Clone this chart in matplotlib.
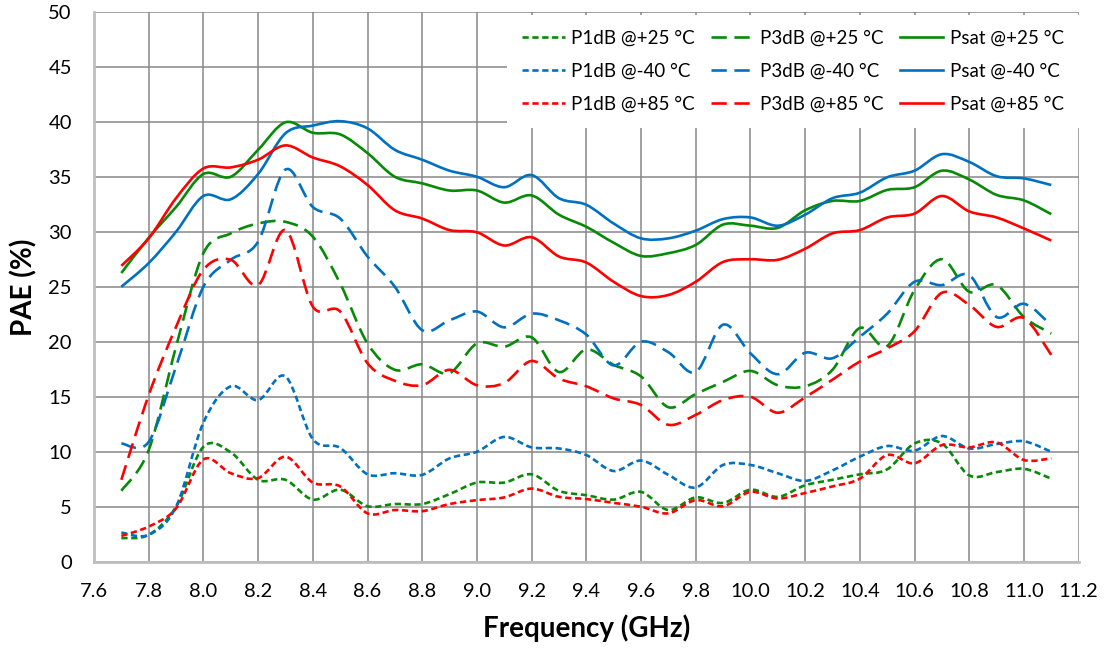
import numpy as np
import matplotlib
matplotlib.use("Agg")
import matplotlib.pyplot as plt
from matplotlib.path import Path
from matplotlib.patches import PathPatch
from matplotlib.lines import Line2D

plt.rcParams['font.family'] = ['Lato', 'DejaVu Sans']
plt.rcParams['lines.scale_dashes'] = False

# ---------------- data ----------------
freq = [7.7, 7.8, 7.9, 8.0, 8.1, 8.2, 8.3, 8.4, 8.5, 8.6, 8.7, 8.8, 8.9, 9.0,
        9.1, 9.2, 9.3, 9.4, 9.5, 9.6, 9.7, 9.8, 9.9, 10.0, 10.1, 10.2, 10.3,
        10.4, 10.5, 10.6, 10.7, 10.8, 10.9, 11.0, 11.1]

p1db_25 = [2.2, 2.5, 5.05, 10.5, 10.0, 7.5, 7.5, 5.7, 6.6, 5.1, 5.3, 5.3, 6.2, 7.25,
           7.25, 8.0, 6.5, 6.1, 5.7, 6.4, 4.75, 5.9, 5.4, 6.6, 5.95, 7.0, 7.5,
           8.0, 8.45, 10.8, 10.8, 7.9, 8.2, 8.5, 7.6]
p3db_25 = [6.5, 10.2, 19.6, 28.1, 29.9, 30.8, 30.95, 29.6, 25.35, 19.9, 17.5, 18.0, 17.2, 19.9,
           19.6, 20.45, 17.3, 19.35, 17.95, 16.9, 14.1, 15.3, 16.4, 17.4, 16.1, 16.0, 17.5,
           21.3, 19.66, 24.75, 27.55, 24.6, 25.2, 22.3, 20.8]
psat_25 = [26.3, 29.5, 32.3, 35.3, 35.05, 37.5, 40.0, 39.05, 38.9, 37.2, 35.05, 34.45, 33.8, 33.8,
           32.7, 33.35, 31.6, 30.5, 29.05, 27.85, 28.1, 28.85, 30.7, 30.6, 30.4, 32.0, 32.85,
           32.85, 33.85, 34.1, 35.6, 34.8, 33.4, 32.9, 31.65]

p1db_m40 = [2.7, 2.5, 5.05, 12.7, 16.0, 14.75, 16.9, 11.2, 10.4, 8.0, 8.1, 7.95, 9.45, 10.05,
            11.4, 10.45, 10.35, 9.75, 8.3, 9.25, 7.95, 6.8, 8.85, 8.85, 8.1, 7.4, 8.35,
            9.6, 10.57, 10.15, 11.48, 10.35, 10.75, 11.0, 10.05]
p3db_m40 = [10.8, 10.95, 17.8, 25.05, 27.5, 29.15, 35.7, 32.3, 31.25, 27.8, 25.05, 21.1, 22.0, 22.8,
            21.36, 22.6, 22.0, 20.7, 17.9, 20.05, 19.1, 17.3, 21.6, 19.0, 17.1, 19.05, 18.55,
            20.5, 22.6, 25.5, 25.2, 26.1, 22.3, 23.5, 21.55]
psat_m40 = [25.05, 27.2, 30.05, 33.3, 33.0, 35.3, 39.0, 39.7, 40.1, 39.45, 37.5, 36.6, 35.6, 35.05,
            34.1, 35.2, 33.1, 32.5, 30.8, 29.45, 29.45, 30.15, 31.2, 31.35, 30.6, 31.6, 33.1,
            33.6, 35.0, 35.6, 37.1, 36.4, 35.1, 34.9, 34.3]

p1db_85 = [2.4, 3.25, 4.9, 9.35, 8.1, 7.65, 9.6, 7.25, 6.9, 4.45, 4.75, 4.65, 5.3, 5.65,
           5.9, 6.7, 5.95, 5.75, 5.4, 5.05, 4.45, 5.65, 5.1, 6.4, 5.8, 6.3, 6.9,
           7.6, 9.75, 9.0, 10.65, 10.45, 10.9, 9.3, 9.45]
p3db_85 = [7.5, 15.2, 21.4, 26.6, 27.5, 25.2, 30.2, 23.25, 22.8, 18.1, 16.5, 16.1, 17.5, 16.1,
           16.3, 18.3, 16.7, 16.0, 14.9, 14.3, 12.5, 13.4, 14.75, 15.05, 13.6, 15.0, 16.6,
           18.25, 19.45, 21.0, 24.5, 23.4, 21.4, 22.2, 18.85]
psat_85 = [26.95, 29.45, 33.1, 35.8, 35.9, 36.6, 37.9, 36.8, 36.0, 34.3, 32.0, 31.25, 30.2, 30.0,
           28.8, 29.55, 27.8, 27.25, 25.5, 24.2, 24.3, 25.5, 27.3, 27.55, 27.5, 28.5, 29.9,
           30.2, 31.35, 31.7, 33.3, 31.9, 31.35, 30.35, 29.25]

x_ticks = [7.6, 7.8, 8.0, 8.2, 8.4, 8.6, 8.8, 9.0, 9.2, 9.4, 9.6, 9.8, 10.0,
           10.2, 10.4, 10.6, 10.8, 11.0, 11.2]
y_ticks = [0, 5, 10, 15, 20, 25, 30, 35, 40, 45, 50]

labels = {
    'p1db_25': 'P1dB @+25 °C', 'p3db_25': 'P3dB @+25 °C', 'psat_25': 'Psat @+25 °C',
    'p1db_m40': 'P1dB @-40 °C', 'p3db_m40': 'P3dB @-40 °C', 'psat_m40': 'Psat @-40 °C',
    'p1db_85': 'P1dB @+85 °C', 'p3db_85': 'P3dB @+85 °C', 'psat_85': 'Psat @+85 °C',
}

# ---------------- style ----------------
GREEN = '#078A07'
BLUE = '#0070C0'
RED = '#FF0000'
LW = 1.9
SHORT = (0, (4.5, 2.6))
LONG = (0, (11, 5.5))
SOLID = '-'


def smooth_path(x, y):
    """Excel-like smoothed line: cubic Bezier segments through the data points."""
    x = np.asarray(x, float)
    y = np.asarray(y, float)
    n = len(x)
    verts = [(x[0], y[0])]
    codes = [Path.MOVETO]
    for i in range(n - 1):
        a = i - 1 if i > 0 else i
        d = i + 2 if i + 2 < n else i + 1
        c1 = (x[i] + (x[i + 1] - x[a]) / 6.0, y[i] + (y[i + 1] - y[a]) / 6.0)
        c2 = (x[i + 1] - (x[d] - x[i]) / 6.0, y[i + 1] - (y[d] - y[i]) / 6.0)
        verts += [c1, c2, (x[i + 1], y[i + 1])]
        codes += [Path.CURVE4] * 3
    return Path(verts, codes)


fig = plt.figure(figsize=(11.06, 6.51), dpi=100)
ax = fig.add_axes([94 / 1106, 1 - 562.3 / 651, (1078.6 - 94) / 1106, (562.3 - 12.3) / 651])

series = [
    (p1db_25, GREEN, SHORT, 'p1db_25'), (p1db_m40, BLUE, SHORT, 'p1db_m40'), (p1db_85, RED, SHORT, 'p1db_85'),
    (p3db_25, GREEN, LONG, 'p3db_25'), (p3db_m40, BLUE, LONG, 'p3db_m40'), (p3db_85, RED, LONG, 'p3db_85'),
    (psat_25, GREEN, SOLID, 'psat_25'), (psat_m40, BLUE, SOLID, 'psat_m40'), (psat_85, RED, SOLID, 'psat_85'),
]

handles = []
for vals, col, ls, key in series:
    patch = PathPatch(smooth_path(freq, vals), fill=False, edgecolor=col, lw=LW,
                      linestyle=ls, capstyle='butt', joinstyle='round', zorder=3)
    ax.add_patch(patch)
    handles.append(Line2D([], [], color=col, lw=LW, linestyle=ls, label=labels[key]))

ax.set_xlim(7.6, 11.2)
ax.set_ylim(0, 50)
ax.set_xticks(x_ticks)
ax.set_xticklabels([f'{t:.1f}' for t in x_ticks])
ax.set_yticks(y_ticks)
ax.set_axisbelow(True)
ax.grid(True, color='#878787', lw=1.1)
for side in ['top', 'right']:
    ax.spines[side].set_visible(False)
for side in ['left', 'bottom']:
    ax.spines[side].set_color('#BFBFBF')
    ax.spines[side].set_linewidth(2.0)
ax.tick_params(length=0, labelsize=14.5, colors='black')
ax.tick_params(axis='x', pad=15)
ax.tick_params(axis='y', pad=16)

ax.set_xlabel('Frequency (GHz)', fontsize=20, fontweight='bold', labelpad=10)
ax.set_ylabel('PAE (%)', fontsize=20, fontweight='bold', labelpad=8)

leg = ax.legend(handles=handles, ncol=3, loc='upper right', bbox_to_anchor=(1.0, 0.995),
                fontsize=13.5, frameon=True, fancybox=False, framealpha=1.0,
                facecolor='white', edgecolor='none', handlelength=2.3,
                handletextpad=0.35, columnspacing=0.85, labelspacing=0.85,
                borderpad=0.8, borderaxespad=0.0)
leg.set_zorder(5)

fig.savefig('out.png', dpi=100)
